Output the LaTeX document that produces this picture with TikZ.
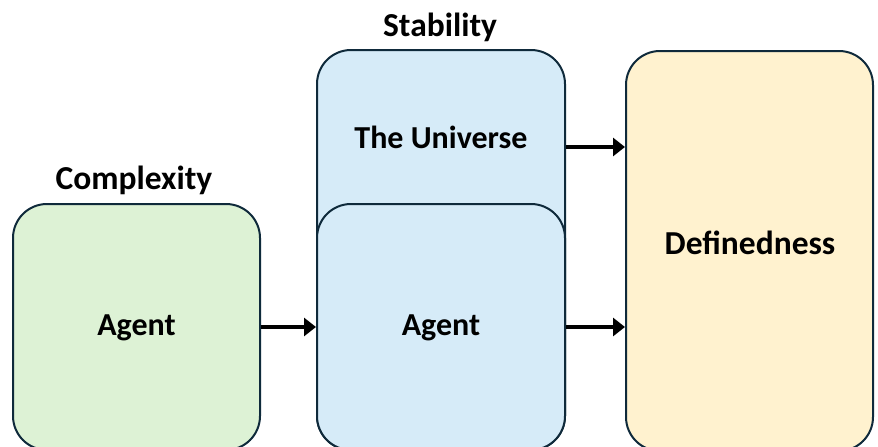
\documentclass[tikz,border=0pt]{standalone}
\usepackage{fontspec}
\setmainfont{Carlito}
\usetikzlibrary{arrows.meta}
\definecolor{boxline}{HTML}{0F2A3B}
\definecolor{greenfill}{HTML}{DDF2D5}
\definecolor{bluefill}{HTML}{D6EBF8}
\definecolor{yellowfill}{HTML}{FFF2CF}
\tikzset{
  panel/.style={draw=boxline, line width=2pt, rounded corners=34pt, inner sep=0pt},
  label/.style={inner sep=0pt, font=\bfseries\fontsize{32}{38}\selectfont},
  heading/.style={inner sep=0pt, font=\bfseries\fontsize{33.5}{40}\selectfont},
  flow/.style={line width=3.4pt, -{Triangle[length=12pt,width=18pt]}},
}
\begin{document}
\begin{tikzpicture}[x=1pt, y=-1pt]
\useasboundingbox (0,0) rectangle (878,447);
\clip (0,0) rectangle (878,447);
\fill[white] (0,0) rectangle (878,447);

% complexity column
\node[panel, fill=greenfill, minimum width=247pt, minimum height=246pt]
  (gbox) at (136.5,327) {};
\node[label] (gtext) at (136.5,328) {Agent};
\node[heading] (complexity) at (134,180) {Complexity};

% stability column: the universe with the agent inside it
\node[panel, fill=bluefill, minimum width=248pt, minimum height=400pt]
  (ubox) at (441,250) {};
\node[label] (utext) at (441,137) {The Universe};
\node[panel, fill=bluefill, minimum width=248pt, minimum height=246pt]
  (abox) at (441,327) {};
\node[label] (atext) at (441,328) {Agent};
\node[heading] (stability) at (440,27) {Stability};

% definedness column
\node[panel, fill=yellowfill, minimum width=247pt, minimum height=400pt]
  (dbox) at (749.5,251) {};
\node[heading] (dtext) at (750,243) {Definedness};

% connectors
\draw[flow] (gbox.east) -- (abox.west);
\draw[flow] (ubox.east |- 0,147) -- (dbox.west |- 0,147);
\draw[flow] (abox.east) -- (abox.east -| dbox.west);
\end{tikzpicture}
\end{document}
